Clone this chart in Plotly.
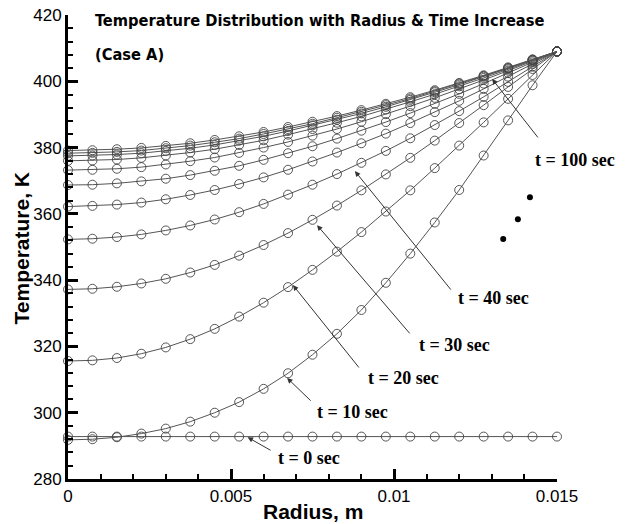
import plotly.graph_objects as go

# Radius grid (m)
radius = [0.0, 0.00075, 0.0015, 0.00225, 0.003, 0.00375, 0.0045, 0.00525, 0.006, 0.00675,
          0.0075, 0.00825, 0.009, 0.00975, 0.0105, 0.01125, 0.012, 0.01275, 0.0135, 0.01425, 0.015]

# Temperature profiles (K)
T_t0 = [292.8] * 21
T_t10 = [291.8, 292.0, 292.6, 293.7, 295.2, 297.3, 300.0, 303.2, 307.2, 311.9, 317.5,
         323.8, 331.0, 339.2, 348.0, 357.4, 367.2, 377.6, 388.2, 398.8, 409.0]
T_t20 = [315.6, 315.8, 316.5, 317.8, 319.7, 322.2, 325.3, 329.0, 333.2, 337.9, 343.1,
         348.6, 354.5, 360.7, 367.1, 373.8, 380.6, 387.6, 394.7, 401.9, 409.0]
T_t30 = [337.2, 337.4, 338.0, 339.0, 340.4, 342.3, 344.6, 347.4, 350.6, 354.2, 358.2,
         362.5, 367.1, 371.9, 376.9, 382.1, 387.4, 392.8, 398.3, 403.7, 409.0]
T_t40 = [352.3, 352.5, 353.0, 353.8, 355.0, 356.5, 358.3, 360.5, 363.0, 365.8, 368.8,
         372.0, 375.4, 379.0, 382.8, 386.8, 391.0, 395.3, 399.8, 404.4, 409.0]
T_t50 = [362.2, 362.4, 362.8, 363.4, 364.4, 365.7, 367.2, 369.0, 371.0, 373.3, 375.8,
         378.5, 381.3, 384.2, 387.4, 390.7, 394.1, 397.7, 401.4, 405.2, 409.0]
T_t60 = [368.7, 368.8, 369.2, 369.8, 370.6, 371.7, 373.0, 374.5, 376.3, 378.3, 380.4,
         382.7, 385.1, 387.7, 390.4, 393.2, 396.2, 399.3, 402.5, 405.7, 409.0]
T_t70 = [373.2, 373.3, 373.6, 374.1, 374.9, 375.9, 377.0, 378.4, 380.0, 381.7, 383.6,
         385.6, 387.8, 390.1, 392.5, 395.0, 397.6, 400.4, 403.2, 406.1, 409.0]
T_t80 = [376.0, 376.1, 376.4, 376.9, 377.6, 378.5, 379.5, 380.8, 382.2, 383.9, 385.6,
         387.5, 389.4, 391.5, 393.8, 396.1, 398.5, 401.0, 403.6, 406.3, 409.0]
T_t90 = [377.5, 377.6, 377.9, 378.3, 379.0, 379.8, 380.8, 382.1, 383.4, 385.0, 386.7,
         388.4, 390.3, 392.3, 394.4, 396.7, 399.0, 401.4, 403.9, 406.5, 409.0]
T_t95 = [378.3, 378.4, 378.7, 379.1, 379.8, 380.6, 381.6, 382.7, 384.1, 385.6, 387.2,
         389.0, 390.8, 392.8, 394.8, 397.0, 399.3, 401.6, 404.0, 406.5, 409.0]
T_t100 = [379.1, 379.2, 379.5, 379.9, 380.5, 381.3, 382.3, 383.4, 384.7, 386.2, 387.8,
          389.5, 391.3, 393.2, 395.2, 397.3, 399.5, 401.8, 404.2, 406.6, 409.0]

profiles = [T_t0, T_t10, T_t20, T_t30, T_t40, T_t50, T_t60, T_t70, T_t80, T_t90, T_t95, T_t100]
profile_names = ["t = 0 sec", "t = 10 sec", "t = 20 sec", "t = 30 sec", "t = 40 sec",
                 "t = 50 sec", "t = 60 sec", "t = 70 sec", "t = 80 sec", "t = 90 sec",
                 "t = 95 sec", "t = 100 sec"]

# Ellipsis dots
dots_r = [0.01335, 0.0138, 0.01417]
dots_T = [352.4, 358.4, 365.0]

# Labels inside the plot: text, text position, arrow tip, arrow tail
label_texts = ["t = 40 sec", "t = 30 sec", "t = 20 sec", "t = 10 sec", "t = 0 sec"]
label_r = [0.01304, 0.01187, 0.01028, 0.00874, 0.00739]
label_T = [334.6, 320.4, 310.5, 300.2, 286.3]
tip_r = [0.00880, 0.00764, 0.00690, 0.00672, 0.00551]
tip_T = [372.9, 356.6, 338.5, 310.5, 292.6]
tail_r = [0.01178, 0.01052, 0.00896, 0.00749, 0.00626]
tail_T = [336.7, 323.5, 313.2, 303.2, 288.4]

# Label beyond the right edge of the axis (x given as fraction of plot width)
last_label = "t = 100 sec"
last_label_xfrac = 1.0368
last_label_T = 376.3
last_tip_r, last_tip_T = 0.01301, 400.7
last_tail_r, last_tail_T = 0.01445, 382.6

fig = go.Figure()

for name, T in zip(profile_names, profiles):
    fig.add_trace(go.Scatter(
        x=radius, y=T, mode="lines+markers", name=name,
        line=dict(color="#555555", width=1),
        marker=dict(symbol="circle-open", size=9, color="#444444", line=dict(width=0.9, color="#444444")),
        cliponaxis=False, showlegend=False))

fig.add_trace(go.Scatter(x=dots_r, y=dots_T, mode="markers",
                         marker=dict(size=6, color="black"), showlegend=False, cliponaxis=False))

serif = "Liberation Serif, Times New Roman, serif"
arrow_style = dict(text="", showarrow=True, arrowhead=2, arrowsize=1.1, arrowwidth=1,
                   arrowcolor="#333333", standoff=0, startstandoff=0)
label_font = dict(family=serif, size=18, color="black")

for txt, lr, lT, pr, pT, qr, qT in zip(label_texts, label_r, label_T, tip_r, tip_T, tail_r, tail_T):
    fig.add_annotation(x=pr, y=pT, ax=qr, ay=qT, xref="x", yref="y", axref="x", ayref="y", **arrow_style)
    fig.add_annotation(x=lr, y=lT, xref="x", yref="y", text="<b>" + txt + "</b>",
                       showarrow=False, font=label_font, xanchor="center", yanchor="middle")

fig.add_annotation(x=last_tip_r, y=last_tip_T, ax=last_tail_r, ay=last_tail_T,
                   xref="x", yref="y", axref="x", ayref="y", **arrow_style)
fig.add_annotation(x=last_label_xfrac, y=last_label_T, xref="paper", yref="y",
                   text="<b>" + last_label + "</b>", showarrow=False, font=label_font,
                   xanchor="center", yanchor="middle")

narrow = "DejaVu Sans Condensed, Liberation Sans Narrow, Arial Narrow, sans-serif"
fig.add_annotation(x=0.051, y=0.989, xref="paper", yref="paper", xanchor="left", yanchor="middle",
                   text="<b>Temperature Distribution with Radius & Time Increase</b>",
                   showarrow=False, font=dict(family=narrow, size=16.3, color="black"))
fig.add_annotation(x=0.051, y=0.914, xref="paper", yref="paper", xanchor="left", yanchor="middle",
                   text="<b>(Case A)</b>",
                   showarrow=False, font=dict(family=narrow, size=16.3, color="black"))

sans = "Liberation Sans, Arial, sans-serif"
title_font = dict(family=sans, size=21, color="black")
# Axis titles
fig.add_annotation(x=0.5, y=-0.069, xref="paper", yref="paper", xanchor="center", yanchor="middle",
                   text="<b>Radius, m</b>", showarrow=False, font=title_font)
fig.add_annotation(x=-0.096, y=0.497, xref="paper", yref="paper", xanchor="center", yanchor="middle",
                   text="<b>Temperature, K</b>", textangle=-90, showarrow=False, font=title_font)

axis_common = dict(showline=True, linewidth=3, linecolor="black", mirror=False,
                   ticks="inside", ticklen=10, tickwidth=2.5, tickcolor="black",
                   showgrid=False, zeroline=False, automargin=False,
                   tickfont=dict(family=sans, size=17, color="black"))

fig.update_xaxes(range=[0, 0.015], tick0=0, dtick=0.005,
                 minor=dict(ticks="inside", ticklen=5, tickwidth=1.5, tickcolor="black", dtick=0.001, showgrid=False),
                 **axis_common)
fig.update_yaxes(range=[280, 420], tick0=280, dtick=20,
                 minor=dict(ticks="inside", ticklen=5, tickwidth=1.5, tickcolor="black", dtick=4, showgrid=False),
                 **axis_common)

fig.update_layout(width=625, height=524, margin=dict(l=68, r=68, t=15, b=45),
                  plot_bgcolor="white", paper_bgcolor="white")

fig.write_html("out.html", config={"displayModeBar": False},
               post_script="document.body.style.margin='0';document.body.style.overflow='hidden';")
